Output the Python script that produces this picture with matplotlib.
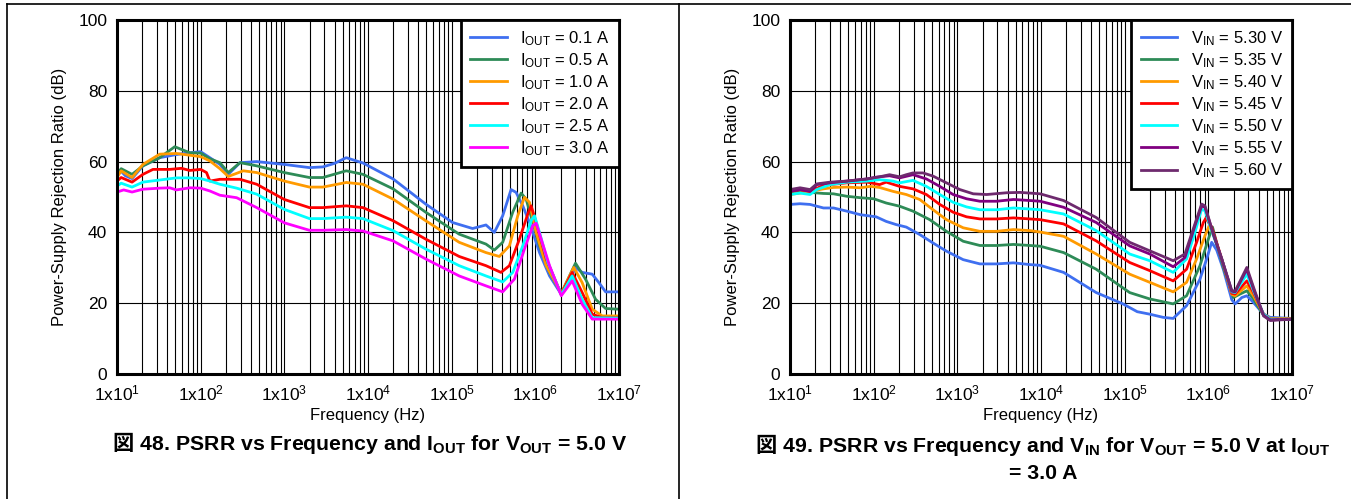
import numpy as np
import matplotlib
matplotlib.use('Agg')
import matplotlib.pyplot as plt
from matplotlib.lines import Line2D
from matplotlib.ticker import FixedLocator, FuncFormatter, LogLocator, NullFormatter
from matplotlib.offsetbox import TextArea, HPacker, VPacker, AnnotationBbox

plt.rcParams['font.family'] = ['Liberation Sans', 'DejaVu Sans']
plt.rcParams['font.size'] = 12
plt.rcParams['mathtext.default'] = 'regular'

# ---- figure 48: PSRR vs frequency for several IOUT (log10 of Hz) ----
iout_labels = ['0.1', '0.5', '1.0', '2.0', '2.5', '3.0']
iout_colors = ['#3f6ff0', '#2e8b57', '#ff9a00', '#ff0000', '#00ffff', '#ff00ff']

lf_i01 = [1.0, 1.04, 1.1, 1.18, 1.31, 1.51, 1.71, 1.87, 2.0, 2.11, 2.23, 2.33, 2.47, 2.67, 3.0, 3.3, 3.46, 3.6, 3.74, 3.94,
          4.3, 4.69, 5.01, 5.25, 5.41, 5.51, 5.61, 5.71, 5.77, 5.85, 5.93, 6.05, 6.17, 6.31, 6.40, 6.48, 6.56, 6.68, 6.76, 6.84, 7.0]
db_i01 = [56, 57.5, 56, 55.2, 58.8, 61.1, 62, 62.5, 62.8, 61.1, 59.2, 56.4, 59.7, 60, 59.2, 58.3, 58.5, 59.5, 61.1, 59.6,
          55.1, 48, 42.8, 41.1, 42.1, 40, 44.7, 52.1, 51.3, 47.5, 42.8, 34.3, 27.7, 22.5, 25.8, 30.1, 28.7, 28.2, 25.8, 23.2, 23.2]

lf_i05 = [1.0, 1.05, 1.18, 1.31, 1.51, 1.69, 1.87, 2.0, 2.11, 2.23, 2.33, 2.47, 2.67, 3.0, 3.3, 3.46, 3.74, 3.94,
          4.3, 4.69, 5.09, 5.41, 5.51, 5.61, 5.73, 5.83, 5.89, 5.97, 6.05, 6.17, 6.31, 6.48, 6.60, 6.72, 6.84, 7.0]
db_i05 = [56.4, 58, 56.4, 58.8, 61.1, 64.2, 62.5, 62.4, 60.8, 59.7, 56.9, 59.7, 58.8, 56.9, 55.5, 55.5, 57.4, 56.4,
          52.3, 45.7, 39.5, 36.7, 35, 37.2, 45.7, 51.1, 49.4, 42.8, 36.2, 28.7, 22.8, 31.3, 26.8, 21.1, 18.5, 18.3]

lf_i10 = [1.0, 1.05, 1.18, 1.31, 1.51, 1.71, 1.87, 2.0, 2.11, 2.23, 2.33, 2.51, 2.67, 3.0, 3.3, 3.46, 3.74, 3.94,
          4.3, 4.69, 5.09, 5.41, 5.57, 5.69, 5.79, 5.87, 5.93, 6.01, 6.13, 6.31, 6.46, 6.56, 6.68, 6.80, 7.0]
db_i10 = [55.5, 57.4, 55.5, 59.2, 62.1, 62.3, 61.8, 61.4, 60.2, 58, 55.8, 57.4, 56.9, 54.5, 52.8, 52.8, 54.1, 53.6,
          49.4, 43.3, 37.2, 34.3, 33.2, 36.2, 44.7, 49.9, 48.5, 40, 30.6, 22.8, 30.1, 25.8, 18.3, 16.4, 16.4]

lf_i20 = [1.0, 1.05, 1.18, 1.31, 1.43, 1.63, 1.77, 1.87, 2.0, 2.07, 2.11, 2.23, 2.47, 2.67, 3.0, 3.3, 3.46, 3.74, 3.94,
          4.3, 4.69, 5.09, 5.41, 5.59, 5.69, 5.81, 5.91, 5.95, 6.01, 6.13, 6.31, 6.44, 6.56, 6.68, 6.80, 7.0]
db_i20 = [54.5, 55.5, 54.2, 56.4, 57.8, 57.8, 58.1, 57.5, 57.8, 56.9, 54.5, 55, 55, 53.6, 49.3, 47, 47, 47.5, 47,
          43.3, 38.1, 33.2, 30.6, 28.7, 30.6, 38.1, 45.2, 47.5, 42.8, 32.5, 22.5, 28.7, 23.0, 16.9, 15.9, 15.9]

lf_i25 = [1.0, 1.05, 1.18, 1.31, 1.51, 1.71, 1.87, 2.0, 2.11, 2.23, 2.43, 2.67, 3.0, 3.3, 3.46, 3.74, 3.94,
          4.3, 4.69, 5.09, 5.41, 5.61, 5.73, 5.85, 5.95, 5.99, 6.05, 6.15, 6.31, 6.44, 6.56, 6.68, 7.0]
db_i25 = [53.1, 53.9, 52.8, 54.2, 54.8, 55.4, 55.4, 55.2, 54.5, 53.6, 52.5, 50.8, 46.5, 43.9, 43.9, 44.3, 43.9,
          40.5, 35.3, 30.6, 27.7, 26.0, 28.7, 36.2, 43.3, 44.7, 40, 31.5, 22.4, 27.7, 21.1, 15.9, 15.8]

lf_i30 = [1.0, 1.08, 1.18, 1.31, 1.51, 1.63, 1.71, 1.87, 2.0, 2.11, 2.23, 2.43, 2.67, 3.0, 3.3, 3.46, 3.74, 3.94,
          4.3, 4.69, 5.09, 5.41, 5.61, 5.75, 5.87, 5.97, 6.01, 6.07, 6.17, 6.31, 6.44, 6.56, 6.68, 7.0]
db_i30 = [51.4, 52, 51.4, 52.2, 52.5, 52.6, 52, 52.6, 52.5, 51.7, 50.5, 49.8, 47, 42.7, 40.6, 40.6, 40.8, 40.4,
          37.6, 32.5, 27.7, 24.9, 23.2, 26.8, 35.3, 41.9, 42.6, 38.1, 30.6, 22.1, 26.3, 19.7, 15.5, 15.5]

# ---- figure 49: PSRR vs frequency for several VIN ----
vin_labels = ['5.30', '5.35', '5.40', '5.45', '5.50', '5.55', '5.60']
vin_colors = ['#3f6ff0', '#2e8b57', '#ff9a00', '#ff0000', '#00ffff', '#800080', '#6e2a6e']

lf_v530 = [1.0, 1.12, 1.24, 1.40, 1.52, 1.68, 1.84, 2.03, 2.15, 2.27, 2.39, 2.55, 2.71, 2.87, 3.07, 3.27, 3.47, 3.67, 3.87, 3.99,
           4.27, 4.66, 4.98, 5.15, 5.30, 5.46, 5.58, 5.74, 5.90, 5.98, 6.04, 6.10, 6.18, 6.28, 6.32, 6.40, 6.46, 6.54, 6.66, 6.74, 7.0]
db_v530 = [47.9, 48.1, 47.9, 46.9, 46.9, 46, 45, 44.4, 43.1, 42.2, 41.5, 39.4, 37, 34.7, 32.3, 31.1, 31.1, 31.4, 30.9, 30.7,
           28.7, 23, 19.8, 17.6, 16.9, 16, 15.7, 19.3, 26.8, 32.5, 37.2, 35, 29.5, 21, 19.8, 21.6, 22.1, 20.2, 16.9, 16, 15.7]

lf_v535 = [1.0, 1.12, 1.24, 1.40, 1.52, 1.68, 1.84, 2.0, 2.15, 2.31, 2.47, 2.67, 2.87, 3.07, 3.27, 3.47, 3.67, 3.87, 3.99,
           4.27, 4.66, 5.06, 5.30, 5.58, 5.74, 5.90, 6.00, 6.05, 6.10, 6.18, 6.30, 6.38, 6.46, 6.54, 6.66, 6.74, 7.0]
db_v535 = [51.1, 51.6, 51.3, 51, 50.9, 50.2, 49.8, 49.5, 48.3, 47.4, 46, 43.6, 40.3, 37.5, 36.3, 36.3, 36.6, 36.3, 36.1,
           34.3, 29.6, 23, 21.2, 19.8, 22.1, 30.6, 38.1, 41.5, 37, 30, 21.6, 22.6, 23.5, 21.2, 16.6, 15.7, 15.7]

lf_v540 = [1.0, 1.12, 1.24, 1.40, 1.52, 1.68, 1.84, 1.96, 2.07, 2.23, 2.39, 2.55, 2.71, 2.87, 3.07, 3.27, 3.47, 3.67, 3.87, 3.99,
           4.27, 4.66, 5.06, 5.30, 5.58, 5.74, 5.86, 5.96, 6.01, 6.06, 6.16, 6.28, 6.32, 6.46, 6.54, 6.66, 6.74, 7.0]
db_v540 = [50.7, 51.1, 51.6, 52.3, 52.7, 52.8, 52.6, 53, 52.7, 51.6, 50.7, 49.3, 46.4, 43.6, 41.3, 40.3, 40.3, 40.8, 40.5, 40.1,
           38.9, 33.9, 28.2, 25.9, 23.2, 25.9, 32.5, 39.1, 41.9, 39.5, 32.5, 22.5, 22.1, 24.9, 22.1, 16.9, 15.7, 15.7]

lf_v545 = [1.0, 1.12, 1.24, 1.40, 1.68, 1.92, 2.07, 2.15, 2.31, 2.47, 2.63, 2.79, 2.95, 3.11, 3.27, 3.47, 3.67, 3.87, 3.99,
           4.27, 4.66, 5.06, 5.30, 5.58, 5.74, 5.86, 5.94, 5.97, 6.04, 6.16, 6.28, 6.32, 6.46, 6.54, 6.66, 6.74, 7.0]
db_v545 = [51.6, 52.1, 51.6, 53.3, 54, 54.2, 53.5, 54.2, 53, 52.3, 50.7, 47.9, 45.7, 44.4, 43.8, 43.8, 44.1, 43.8, 43.6,
           42.4, 37.6, 31.5, 29.2, 26.3, 29.6, 37.2, 42.8, 44, 41.5, 32.5, 22.8, 22.6, 26.3, 23, 16.9, 15.5, 15.5]

lf_v550 = [1.0, 1.12, 1.24, 1.32, 1.48, 1.68, 1.92, 2.07, 2.23, 2.31, 2.47, 2.63, 2.79, 2.95, 3.11, 3.27, 3.47, 3.67, 3.87, 3.99,
           4.27, 4.66, 5.06, 5.30, 5.58, 5.74, 5.84, 5.92, 5.96, 6.06, 6.16, 6.28, 6.32, 6.46, 6.54, 6.66, 6.74, 7.0]
db_v550 = [50.7, 51.1, 50.7, 52.1, 53.5, 54.2, 54.5, 54.9, 54.5, 54, 54.7, 53, 50.7, 48.5, 47.2, 46.4, 46.4, 46.9, 46.6, 46.4,
           45.2, 40.5, 33.9, 32, 28.7, 32.5, 40, 46.6, 46.1, 39.1, 32.5, 23.2, 23, 28.2, 23.5, 16.9, 15.5, 15.5]

lf_v555 = [1.0, 1.12, 1.24, 1.32, 1.48, 1.68, 1.92, 2.03, 2.19, 2.31, 2.47, 2.63, 2.79, 2.95, 3.11, 3.27, 3.47, 3.67, 3.87, 3.99,
           4.27, 4.66, 5.06, 5.30, 5.58, 5.72, 5.84, 5.92, 5.96, 6.06, 6.16, 6.28, 6.32, 6.46, 6.54, 6.66, 6.74, 7.0]
db_v555 = [51.6, 52.1, 51.6, 53.5, 54, 54.5, 55.1, 55.6, 56, 55.4, 56.3, 55.1, 53, 50.7, 49.5, 48.8, 48.8, 49.3, 49, 48.8,
           47.1, 42.8, 36.2, 33.9, 30.3, 32.9, 41.9, 47.5, 47.1, 39.5, 32.5, 23.4, 23.2, 29.6, 24, 16.6, 15.3, 15.5]

lf_v560 = [1.0, 1.12, 1.24, 1.32, 1.48, 1.68, 1.92, 2.07, 2.19, 2.31, 2.39, 2.47, 2.59, 2.71, 2.87, 3.03, 3.19, 3.35, 3.59, 3.75, 3.99,
           4.27, 4.66, 5.06, 5.30, 5.58, 5.72, 5.84, 5.92, 5.96, 6.06, 6.16, 6.28, 6.32, 6.46, 6.54, 6.66, 6.74, 7.0]
db_v560 = [52.1, 52.6, 52.1, 53.7, 54.2, 54.5, 55.1, 55.7, 56.3, 55.7, 56.3, 56.8, 56.8, 55.9, 54, 52.1, 50.9, 50.7, 51.2, 51.3, 50.9,
           49, 44.2, 37.2, 34.8, 32, 33.9, 42.4, 48, 47.5, 39.5, 32.5, 23.6, 23.4, 30.1, 24.5, 16.4, 15.1, 15.5]

iout_curves = [(lf_i01, db_i01), (lf_i05, db_i05), (lf_i10, db_i10),
               (lf_i20, db_i20), (lf_i25, db_i25), (lf_i30, db_i30)]
vin_curves = [(lf_v530, db_v530), (lf_v535, db_v535), (lf_v540, db_v540), (lf_v545, db_v545),
              (lf_v550, db_v550), (lf_v555, db_v555), (lf_v560, db_v560)]

W, H = 1351, 499
fig = plt.figure(figsize=(W / 100, H / 100), dpi=100)
ax1 = fig.add_axes([117 / W, 1 - 374 / H, 502 / W, 354 / H])
ax2 = fig.add_axes([790 / W, 1 - 374 / H, 502 / W, 354 / H])


def style_axes(ax):
    ax.set_xscale('log')
    ax.set_xlim(10, 1e7)
    ax.set_ylim(0, 100)
    ax.xaxis.set_major_locator(FixedLocator([10.0 ** k for k in range(1, 8)]))
    ax.xaxis.set_major_formatter(FuncFormatter(lambda v, p: r'1x10$^{%d}$' % round(np.log10(v))))
    ax.xaxis.set_minor_locator(LogLocator(base=10, subs=np.arange(2, 10), numticks=20))
    ax.xaxis.set_minor_formatter(NullFormatter())
    ax.set_yticks([0, 20, 40, 60, 80, 100])
    ax.tick_params(which='both', length=0, labelsize=12.5)
    ax.tick_params(axis='x', pad=7)
    ax.tick_params(axis='y', pad=7)
    ax.grid(which='both', axis='x', color='black', linewidth=0.8)
    ax.grid(which='major', axis='y', color='black', linewidth=0.8)
    for s in ax.spines.values():
        s.set_linewidth(2.2)
    ax.set_xlabel('Frequency (Hz)', fontsize=12, labelpad=3)
    ax.set_ylabel('Power-Supply Rejection Ratio (dB)', fontsize=12, labelpad=8)


style_axes(ax1)
for (lf, db), lab, c in zip(iout_curves, iout_labels, iout_colors):
    ax1.plot(10.0 ** np.array(lf), db, color=c, linewidth=2, label=r'I$_{OUT}$ = %s A' % lab)

style_axes(ax2)
for (lf, db), lab, c in zip(vin_curves, vin_labels, vin_colors):
    ax2.plot(10.0 ** np.array(lf), db, color=c, linewidth=2, label=r'V$_{IN}$ = %s V' % lab)

for ax in (ax1, ax2):
    leg = ax.legend(loc='upper right', borderaxespad=0, fancybox=False, edgecolor='black',
                    framealpha=1, fontsize=12, handlelength=2.2, labelspacing=0.2,
                    handletextpad=0.8, borderpad=0.55)
    leg.get_frame().set_linewidth(2)

# captions (the CJK sign needs its own font, so build them from pieces)
bold = dict(fontsize=15.3, fontweight='bold', family=['Liberation Sans'])
cjk = dict(fontsize=15.3, fontweight='bold', family=['Noto Sans CJK JP'])


def caption(text):
    return HPacker(children=[TextArea('図', textprops=cjk), TextArea(text, textprops=bold)],
                   align='baseline', pad=0, sep=0)


cap1 = caption(r' 48. PSRR vs Frequency and I$_{OUT}$ for V$_{OUT}$ = 5.0 V')
fig.add_artist(AnnotationBbox(cap1, (370 / W, 1 - 445 / H), xycoords='figure fraction',
                              frameon=False, box_alignment=(0.5, 0.5)))

cap2 = VPacker(children=[caption(r' 49. PSRR vs Frequency and V$_{IN}$ for V$_{OUT}$ = 5.0 V at I$_{OUT}$'),
                         TextArea('= 3.0 A', textprops=bold)],
               align='center', pad=0, sep=5)
fig.add_artist(AnnotationBbox(cap2, (1043 / W, 1 - 459 / H), xycoords='figure fraction',
                              frameon=False, box_alignment=(0.5, 0.5)))

# page frame lines
for xs, ys in [((7, W), (4, 4)), ((7, 7), (4, H)), ((679, 679), (4, H))]:
    fig.add_artist(Line2D([x / W for x in xs], [1 - y / H for y in ys], color='black', linewidth=1.2))

fig.savefig('out.png', dpi=100)
